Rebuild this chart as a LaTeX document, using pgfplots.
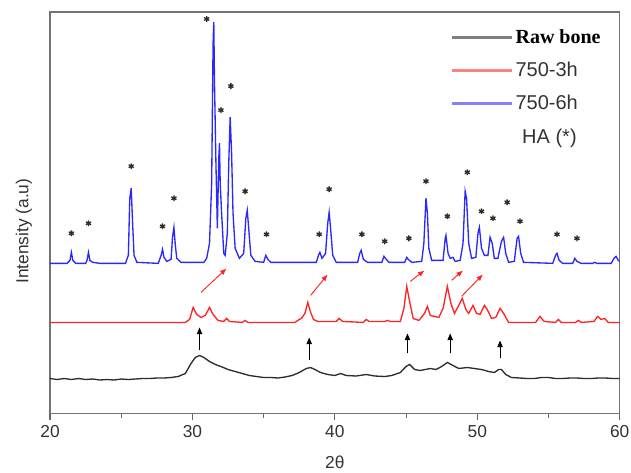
\documentclass[border=0pt]{standalone}
\usepackage{fontspec}
\setmainfont{Liberation Sans}
\newfontfamily\timesfont{Liberation Serif}
\usepackage{pgfplots}
\pgfplotsset{compat=1.18}
\usetikzlibrary{arrows.meta}
\definecolor{xrdblue}{RGB}{40,40,255}
\definecolor{xrdred}{RGB}{255,35,35}
\definecolor{xrdblack}{RGB}{45,45,45}
\definecolor{legblue}{RGB}{130,130,255}
\definecolor{legred}{RGB}{255,130,130}
\definecolor{startxt}{RGB}{50,42,35}

\begin{document}
\begin{tikzpicture}
\begin{axis}[
  scale only axis, width=427pt, height=301pt,
  xmin=20, xmax=60, ymin=0, ymax=401,
  xtick={20,30,...,60}, minor xtick={25,35,45,55},
  xtick pos=bottom, ytick=\empty,
  tick align=outside, major tick length=5pt, minor tick length=3pt,
  tick style={black!60, line width=0.8pt},
  axis line style={black!55, line width=1.2pt},
  /pgf/number format/assume math mode=true,
  xticklabel style={font=\fontsize{13}{15}\selectfont, text=black!80},
  xlabel={2θ}, ylabel={Intensity (a.u)},
  label style={font=\fontsize{13}{15}\selectfont, text=black!80},
  xlabel style={at={(axis description cs:0.5,-0.122)}, anchor=center},
  ylabel style={at={(axis description cs:-0.046,0.454)}, anchor=center},
  legend style={at={(axis cs:47.8,389)}, anchor=north west, draw=none, fill=none,
    font=\fontsize{15}{17}\selectfont, row sep=8.5pt, text=black!80},
  legend cell align=left,
  legend image code/.code={\draw[#1] (0pt,0pt) -- (45pt,0pt);},
]
% raw bone
\addplot[xrdblack, line width=1pt, forget plot] table {
20.0 35
20.5 34
21.0 35
21.5 34
22.0 35
22.5 34
23.0 34.5
23.5 33.5
24.0 34
24.5 33.5
25.0 34.5
25.5 34
26.0 34.5
26.5 35
27.0 35
27.5 35.5
28.0 35.5
28.5 36
29.0 37
29.5 40
29.9 50
30.2 56
30.5 58
30.8 56
31.2 52
31.6 49
32.0 47
32.5 44
33.0 42
33.5 40
34.0 38
34.5 37
35.0 36
35.5 36
36.0 35.5
36.5 36.5
37.0 38
37.5 41
38.0 45
38.3 46
38.6 44
39.0 41
39.5 39
40.0 38
40.4 40
40.8 38
41.5 37.5
42.2 39
42.8 37.5
43.5 37
44.0 38
44.6 41
45.0 47
45.25 49
45.6 44
46.0 43
46.7 45
47.1 44
47.5 47
47.9 51
48.3 48
48.7 45
49.3 46
49.8 45
50.3 44
50.8 42
51.2 41
51.5 44
51.7 44
52.0 39
52.4 36
53.0 35.5
53.5 35
54.0 35
54.5 36
55.0 36
55.5 35
56.0 35
56.5 35.5
57.0 35.5
57.5 35
58.0 35
58.5 35.5
59.0 35.5
59.5 35
60.0 35
};
% 750-3h
\addplot[xrdred, line width=1pt, forget plot] table {
20.0 91
29.5 91
29.8 94
30.05 106
30.3 99
30.6 96
30.9 98
31.2 106
31.45 99
31.8 93
32.2 92
32.4 95
32.6 92
33.5 91
33.7 93
33.9 91
37.2 91
37.5 94
37.65 95
37.9 100
38.1 111
38.3 101
38.5 94
38.8 92
40.1 92
40.3 95
40.55 92
42.0 91
42.2 94
42.4 92
43.5 92
43.7 93
43.9 92
44.6 92
44.85 105
45.05 127
45.25 112
45.5 95
45.9 93
46.3 100
46.5 107
46.7 98
47.0 97
47.3 96
47.6 105
47.9 127
48.15 110
48.4 100
48.7 108
48.95 115
49.2 104
49.4 100
49.7 108
49.95 100
50.2 99
50.5 108
50.7 104
51.0 95
51.3 96
51.6 105
51.85 100
52.2 91
54.1 91
54.4 97
54.7 92
55.5 91
55.7 94
55.9 91
56.9 91
57.1 93
57.3 91
58.2 92
58.45 97
58.7 94
58.95 95
59.2 91
60.0 91
};
% 750-6h
\addplot[xrdblue, line width=1pt, forget plot] table {
20.0 150
21.2 150
21.4 153
21.5 161
21.6 153
21.8 150
22.5 150
22.6 153
22.7 161
22.8 153
23.0 151
23.5 150
25.3 150
25.5 158
25.6 215
25.7 225
25.8 190
25.9 158
26.1 151
27.6 150
27.8 158
27.9 164
28.0 156
28.2 152
28.5 154
28.6 176
28.7 186
28.8 168
28.9 155
29.2 151
30.8 151
31.0 155
31.2 170
31.35 230
31.45 370
31.5 391
31.55 330
31.65 250
31.75 185
31.85 255
31.9 270
31.95 230
32.05 200
32.2 160
32.3 158
32.45 180
32.55 250
32.65 296
32.75 260
32.85 200
33.0 165
33.3 155
33.6 160
33.75 195
33.85 203
33.95 185
34.1 158
34.4 152
35.0 151
35.15 158
35.3 154
35.5 151
38.7 151
38.85 158
38.95 161
39.1 155
39.35 160
39.5 190
39.6 201
39.7 185
39.85 158
40.1 151
41.6 151
41.75 160
41.85 163
42.0 154
42.3 151
43.3 151
43.45 157
43.55 155
43.8 151
44.9 151
45.05 156
45.15 154
45.4 151
46.1 152
46.25 170
46.4 215
46.5 200
46.6 165
46.8 153
47.6 153
47.75 175
47.8 178
47.95 160
48.1 155
48.3 156
48.45 152
48.8 153
49.0 170
49.15 222
49.25 215
49.4 170
49.6 155
49.9 156
50.05 180
50.15 186
50.3 165
50.5 158
50.75 158
50.9 176
51.05 170
51.2 155
51.45 155
51.7 172
51.85 176
52.0 160
52.2 151
52.6 152
52.8 175
52.9 177
53.05 160
53.25 151
55.3 150
55.5 158
55.6 160
55.75 153
56.0 150
56.7 150
56.85 155
57.0 152
57.3 150
58.1 150
58.25 151
58.4 150
59.4 150
59.6 155
59.75 157
59.9 153
60.0 152
};
% HA stars
\addplot[only marks, mark=asterisk, mark size=2.2pt, startxt, line width=1pt, forget plot] coordinates {
(21.5,180)(22.7,190)(25.7,247)(27.9,187)(28.7,215)(31.0,394)(32.0,303)(32.7,327)
(33.7,222)(35.2,179)(38.9,179)(39.6,224)(41.9,179)(43.5,172)(45.2,175)(46.4,232)
(47.9,197)(49.3,241)(50.3,202)(51.1,195)(52.1,211)(53.0,192)(55.6,179)(57.0,175)
};
% legend
\addlegendimage{black!50, line width=2pt}
\addlegendentry{\timesfont\bfseries\color{black} Raw bone}
\addlegendimage{legred, line width=2pt}
\addlegendentry{750-3h}
\addlegendimage{legblue, line width=2pt}
\addlegendentry{750-6h}
\addlegendimage{empty legend}
\addlegendentry{\hspace*{5pt}HA (*)}
% arrows
\draw[xrdred, line width=0.7pt, -{Latex[length=5pt,width=4pt]}] (30.6,121) -- (32.4,145);
\draw[xrdred, line width=0.7pt, -{Latex[length=5pt,width=4pt]}] (38.3,118) -- (39.5,139);
\draw[xrdred, line width=0.7pt, -{Latex[length=5pt,width=4pt]}] (45.3,132) -- (46.3,143);
\draw[xrdred, line width=0.7pt, -{Latex[length=5pt,width=4pt]}] (48.2,133) -- (49.0,143);
\draw[xrdred, line width=0.7pt, -{Latex[length=5pt,width=4pt]}] (48.9,117) -- (50.4,139);
\draw[black, line width=0.8pt, -{Triangle[length=5pt,width=4pt]}] (30.5,63) -- (30.5,86);
\draw[black, line width=0.8pt, -{Triangle[length=5pt,width=4pt]}] (38.2,53) -- (38.2,76);
\draw[black, line width=0.8pt, -{Triangle[length=5pt,width=4pt]}] (45.1,60) -- (45.1,80);
\draw[black, line width=0.8pt, -{Triangle[length=5pt,width=4pt]}] (48.1,60) -- (48.1,80);
\draw[black, line width=0.8pt, -{Triangle[length=5pt,width=4pt]}] (51.6,55) -- (51.6,73);
\end{axis}
\pgfresetboundingbox
\path ([shift={(-37.5pt,-44pt)}]current axis.south west) rectangle ([shift={(8.5pt,9pt)}]current axis.north east);
\end{tikzpicture}
\end{document}
